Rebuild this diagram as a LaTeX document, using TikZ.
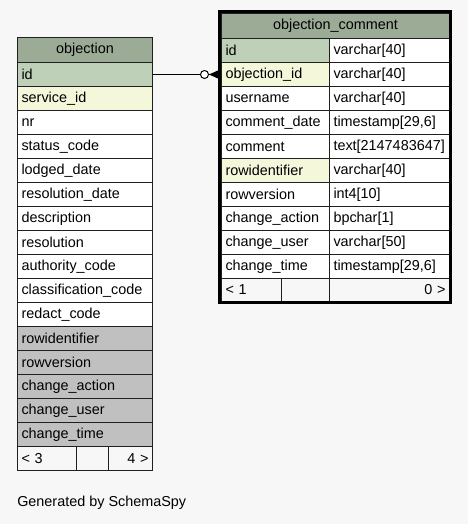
\documentclass[tikz,border=0pt]{standalone}
\usepackage{fontspec}
\setmainfont{Liberation Sans}
\usetikzlibrary{calc}
\newdimen\px \px=0.75pt
\definecolor{bgc}{HTML}{F7F7F7}
\definecolor{headc}{HTML}{9BAB96}
\definecolor{pkc}{HTML}{BED1B8}
\definecolor{fkc}{HTML}{F4F7DA}
\definecolor{greyc}{HTML}{C0C0C0}
\definecolor{linec}{HTML}{202020}
\tikzset{
  cellbox/.style={draw=linec, line width=1\px, rectangle, anchor=north west,
    inner xsep=4\px, inner ysep=0pt, minimum height=24\px, align=left,
    font=\fontsize{10.8}{12}\selectfont},
  headbox/.style={cellbox, fill=headc, align=center, minimum height=25\px},
  conn/.style={line width=1\px, draw=black},
}
\begin{document}
\begin{tikzpicture}[x=0.75pt, y=-0.75pt]
\fill[bgc] (0,0) rectangle (468,524);
\useasboundingbox (0,0) rectangle (468,524);
% ---------- left table: objection ----------
\node[headbox, minimum width=135\px, text width=127\px] (lhead) at (17,37) {objection};
\foreach \t/\c/\i/\n in {id/pkc/0/lid, service\_id/fkc/1/l1, nr/white/2/l2, status\_code/white/3/l3,
  lodged\_date/white/4/l4, resolution\_date/white/5/l5, description/white/6/l6,
  resolution/white/7/l7, authority\_code/white/8/l8, classification\_code/white/9/l9,
  redact\_code/white/10/l10, rowidentifier/greyc/11/l11, rowversion/greyc/12/l12,
  change\_action/greyc/13/l13, change\_user/greyc/14/l14, change\_time/greyc/15/l15}{
  \node[cellbox, fill=\c, minimum width=135\px, text width=127\px] (\n) at (17,62+24*\i) {\t};
}
\node[cellbox, fill=bgc, minimum width=59\px, text width=51\px] (lf1) at (17,446) {< 3};
\node[cellbox, fill=bgc, minimum width=32\px, text width=24\px] (lf2) at (76,446) {};
\node[cellbox, fill=bgc, minimum width=44\px, text width=36\px, align=right] (lf3) at (108,446) {4 >};
% ---------- right table: objection_comment ----------
\node[headbox, minimum width=228\px, text width=220\px] (rhead) at (221,13) {objection\_comment};
\foreach \t/\ty/\c/\i/\n in {id/varchar[40]/pkc/0/rid, objection\_id/varchar[40]/fkc/1/roid,
  username/varchar[40]/white/2/r2, comment\_date/{timestamp[29,6]}/white/3/r3,
  comment/text[2147483647]/white/4/r4, rowidentifier/varchar[40]/fkc/5/r5,
  rowversion/int4[10]/white/6/r6, change\_action/bpchar[1]/white/7/r7,
  change\_user/varchar[50]/white/8/r8, change\_time/{timestamp[29,6]}/white/9/r9}{
  \node[cellbox, fill=\c, minimum width=108\px, text width=100\px] (\n) at (221,38+24*\i) {\t};
  \node[cellbox, fill=white, minimum width=120\px, text width=112\px] (\n t) at (329,38+24*\i) {\ty};
}
\node[cellbox, fill=bgc, minimum width=60\px, text width=52\px, minimum height=23\px] (rf1) at (221,278) {< 1};
\node[cellbox, fill=bgc, minimum width=48\px, text width=40\px, minimum height=23\px] (rf2) at (281,278) {};
\node[cellbox, fill=bgc, minimum width=120\px, text width=112\px, minimum height=23\px, align=right] (rf3) at (329,278) {0 >};
\draw[line width=3\px, draw=black] (219.5,11.5) rectangle (450.5,302.5);
% ---------- connector ----------
\coordinate (ftip) at ($(roid.west)+(-12,0)$);
\draw[conn] (lid.east) -- ($(roid.west)+(-20.5,0)$);
\draw[conn, fill=white] ($(roid.west)+(-16.5,0)$) circle[radius=4];
\fill[black] (ftip) -- ($(roid.west)+(-2,-4.5)$) -- ($(roid.west)+(-2,4.5)$) -- cycle;
\draw[line width=1.2\px] (ftip) -- ($(roid.west)+(-2,0)$);
% ---------- footer text ----------
\node[anchor=west, inner sep=0pt, font=\fontsize{10.8}{12}\selectfont] (gen) at (17,503) {Generated by SchemaSpy};
\end{tikzpicture}
\end{document}
